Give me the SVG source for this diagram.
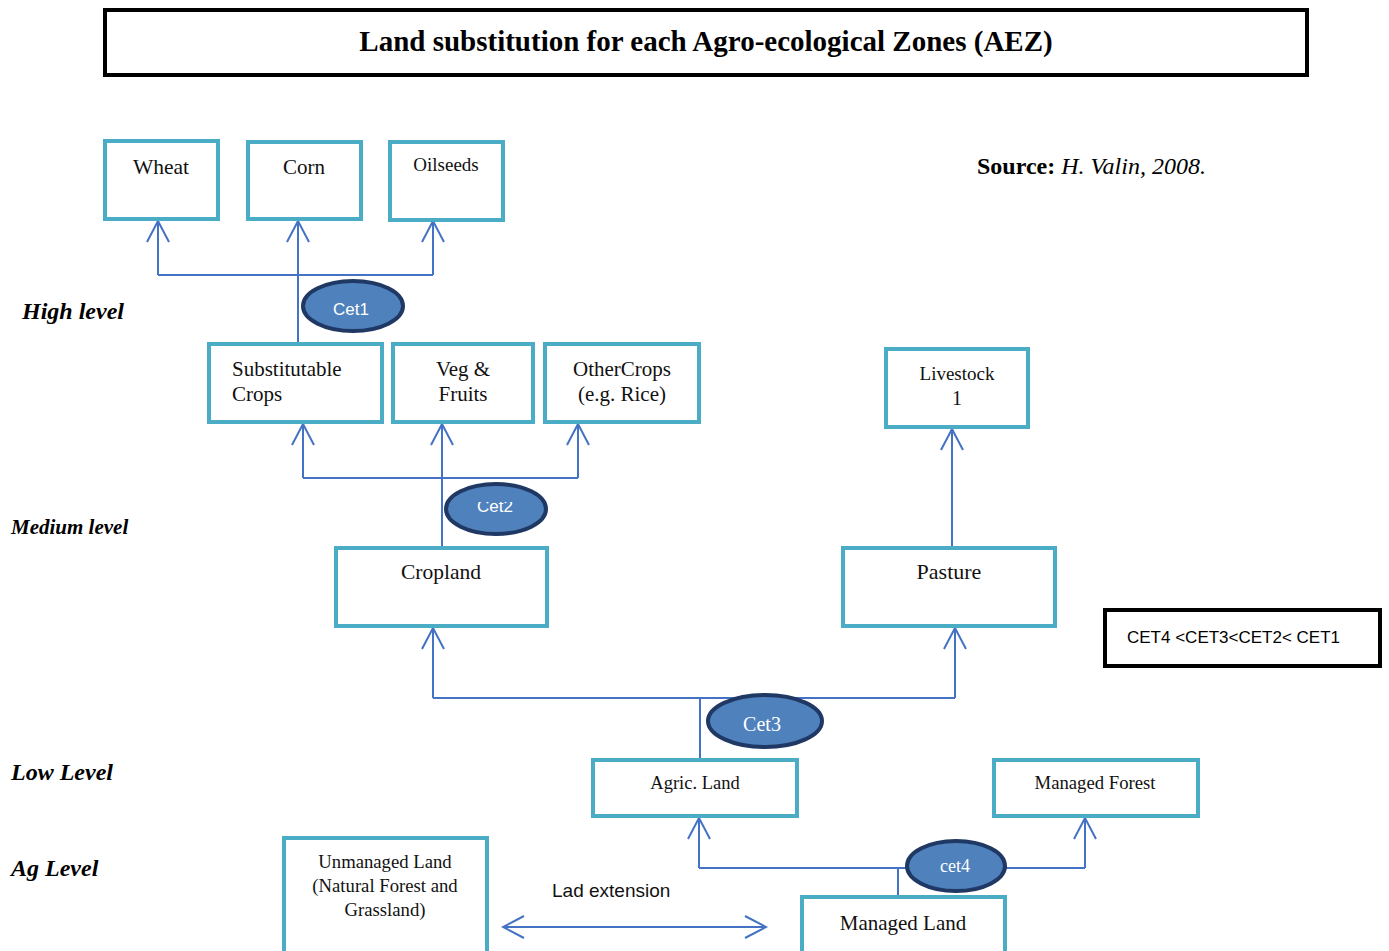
<svg xmlns="http://www.w3.org/2000/svg" width="1389" height="951" viewBox="0 0 1389 951">
<style>
.box{fill:#fff;stroke:#4BACC6;stroke-width:4}
.bbox{fill:#fff;stroke:#000;stroke-width:4}
.t{font-family:"Liberation Serif",serif;fill:#111;text-anchor:middle}
.tl{font-family:"Liberation Serif",serif;fill:#111;text-anchor:start}
.c{fill:none;stroke:#4472C4;stroke-width:2}
.ell{fill:#4F81BD;stroke:#203864;stroke-width:4}
.et{font-family:"Liberation Sans",sans-serif;fill:#fff;text-anchor:middle;font-size:17px}
.ets{font-family:"Liberation Serif",serif;fill:#fff;text-anchor:middle}
.lvl{font-family:"Liberation Serif",serif;font-weight:bold;font-style:italic;fill:#000}
</style>
<defs>
<marker id="ah" viewBox="0 0 24 24" refX="22" refY="12" markerWidth="24" markerHeight="24" markerUnits="userSpaceOnUse" orient="auto-start-reverse">
<path d="M1,1 L22,12 L1,23" fill="none" stroke="#4472C4" stroke-width="2"/>
</marker>
<clipPath id="cp2"><rect x="460" y="502" width="80" height="20"/></clipPath>
</defs>
<rect width="1389" height="951" fill="#fff"/>

<g id="title">
<rect class="bbox" x="105" y="10" width="1202" height="65"/>
<text x="706" y="51" font-family="Liberation Serif, serif" font-weight="bold" font-size="29" text-anchor="middle">Land substitution for each Agro-ecological Zones (AEZ)</text>
</g>

<g id="source"><text x="977" y="174" font-family="Liberation Serif, serif" font-size="24"><tspan font-weight="bold">Source:</tspan><tspan font-style="italic"> H. Valin, 2008.</tspan></text></g>

<g id="levels">
<text class="lvl" x="22" y="319" font-size="24">High level</text>
<text class="lvl" x="11" y="534" font-size="21">Medium level</text>
<text class="lvl" x="11" y="780" font-size="24">Low Level</text>
<text class="lvl" x="11" y="876" font-size="24">Ag Level</text>
</g>

<g id="connectors">
<path class="c" d="M158,275 H433"/>
<path class="c" d="M158,275 V221" marker-end="url(#ah)"/>
<path class="c" d="M433,275 V221" marker-end="url(#ah)"/>
<path class="c" d="M298,343 V221" marker-end="url(#ah)"/>

<path class="c" d="M303,478 H578"/>
<path class="c" d="M303,478 V424" marker-end="url(#ah)"/>
<path class="c" d="M578,478 V424" marker-end="url(#ah)"/>
<path class="c" d="M442,547 V424" marker-end="url(#ah)"/>

<path class="c" d="M952,547 V429" marker-end="url(#ah)"/>

<path class="c" d="M433,698 H955"/>
<path class="c" d="M433,698 V628" marker-end="url(#ah)"/>
<path class="c" d="M955,698 V628" marker-end="url(#ah)"/>
<path class="c" d="M700,698 V759"/>

<path class="c" d="M699,868 H1085"/>
<path class="c" d="M699,868 V818" marker-end="url(#ah)"/>
<path class="c" d="M1085,868 V818" marker-end="url(#ah)"/>
<path class="c" d="M898,868 V896"/>

<path class="c" d="M503,927 H766" marker-start="url(#ah)" marker-end="url(#ah)"/>
<text x="552" y="897" font-family="Liberation Sans, sans-serif" font-size="19" fill="#111">Lad extension</text>
</g>

<g id="wheat"><rect class="box" x="105" y="141" width="113" height="78"/><text class="t" x="161" y="174" font-size="21.5">Wheat</text></g>
<g id="corn"><rect class="box" x="248" y="142" width="113" height="77"/><text class="t" x="304" y="174" font-size="21">Corn</text></g>
<g id="oilseeds"><rect class="box" x="390" y="142" width="113" height="78"/><text class="t" x="446" y="171" font-size="19">Oilseeds</text></g>

<g id="cet1"><ellipse class="ell" cx="353" cy="306" rx="50" ry="25"/><text class="et" x="351" y="315">Cet1</text></g>

<g id="substitutable"><rect class="box" x="209" y="344" width="173" height="78"/><text class="tl" x="232" y="376" font-size="21">Substitutable</text><text class="tl" x="232" y="401" font-size="21">Crops</text></g>
<g id="veg"><rect class="box" x="393" y="344" width="140" height="78"/><text class="t" x="463" y="376" font-size="21">Veg &amp;</text><text class="t" x="463" y="401" font-size="21">Fruits</text></g>
<g id="othercrops"><rect class="box" x="545" y="344" width="154" height="78"/><text class="t" x="622" y="376" font-size="21">OtherCrops</text><text class="t" x="622" y="401" font-size="21">(e.g. Rice)</text></g>

<g id="cet2"><ellipse class="ell" cx="496" cy="509" rx="50" ry="25"/><text class="et" x="495" y="512" clip-path="url(#cp2)">Cet2</text></g>

<g id="livestock"><rect class="box" x="886" y="349" width="142" height="78"/><text class="t" x="957" y="380" font-size="19">Livestock</text><text class="t" x="957" y="405" font-size="20">1</text></g>

<g id="cropland"><rect class="box" x="336" y="548" width="211" height="78"/><text class="t" x="441" y="579" font-size="21.5">Cropland</text></g>
<g id="pasture"><rect class="box" x="843" y="548" width="212" height="78"/><text class="t" x="949" y="579" font-size="22">Pasture</text></g>

<g id="cetorder"><rect class="bbox" x="1105" y="610" width="275" height="56"/><text x="1127" y="643" font-family="Liberation Sans, sans-serif" font-size="17" fill="#000">CET4 &lt;CET3&lt;CET2&lt; CET1</text></g>

<g id="cet3"><ellipse class="ell" cx="765" cy="721" rx="57" ry="26"/><text class="ets" x="762" y="731" font-size="20">Cet3</text></g>

<g id="agric"><rect class="box" x="593" y="760" width="204" height="56"/><text class="t" x="695" y="789" font-size="18.5">Agric. Land</text></g>
<g id="managedforest"><rect class="box" x="994" y="760" width="204" height="56"/><text class="t" x="1095" y="789" font-size="18.7">Managed Forest</text></g>

<g id="cet4"><ellipse class="ell" cx="956" cy="866" rx="49" ry="25"/><text class="ets" x="955" y="872" font-size="18">cet4</text></g>

<g id="unmanaged"><rect class="box" x="284" y="838" width="203" height="120"/><text class="t" x="385" y="868" font-size="18.7">Unmanaged Land</text><text class="t" x="385" y="892" font-size="18.7">(Natural Forest and</text><text class="t" x="385" y="916" font-size="18.7">Grassland)</text></g>
<g id="managedland"><rect class="box" x="802" y="897" width="203" height="70"/><text class="t" x="903" y="930" font-size="21">Managed Land</text></g>
</svg>
